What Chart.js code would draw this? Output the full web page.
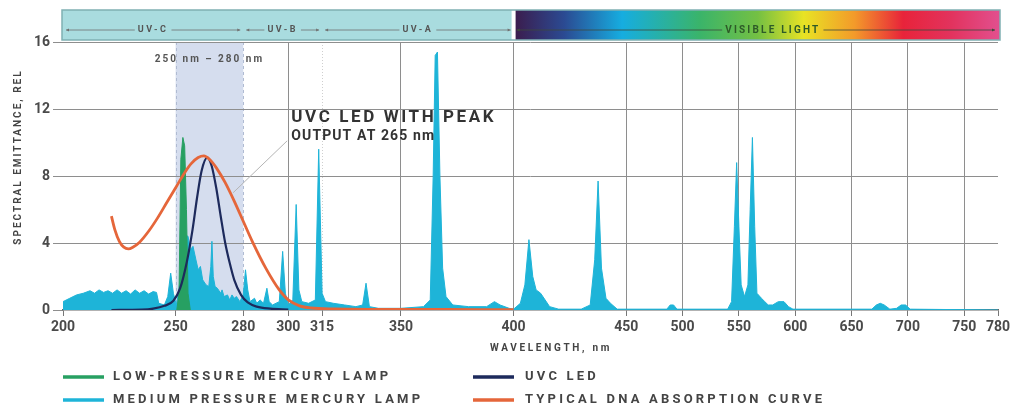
<!DOCTYPE html>
<html>
<head>
<meta charset="utf-8">
<script src="https://cdn.jsdelivr.net/npm/chart.js@4.4.1/dist/chart.umd.min.js"></script>
<style>
  html, body { margin: 0; padding: 0; background: #fff; }
  #wrap { position: relative; width: 1011px; height: 406px; }
</style>
</head>
<body>
<div id="wrap"><canvas id="chart" width="1011" height="406"></canvas></div>
<script>
// axis ticks (x is wavelength in nm, scale is compressed above 450 nm)
const xTicks = [200, 250, 280, 300, 315, 350, 400, 450, 500, 550, 600, 650, 700, 750, 780];
const xGridLines = [300, 350, 400, 450, 500, 550, 600, 650, 700, 750];
const yTicks = [0, 4, 8, 12, 16];

// spectral bands shown in the strip above the plot
const bandNames = ["UV-C", "UV-B", "UV-A", "VISIBLE LIGHT"];
const bandEdges = [200, 280, 315, 400, 780];
const germicidalRange = [250, 280];

const seriesLabels = [
  "LOW-PRESSURE MERCURY LAMP",
  "MEDIUM PRESSURE MERCURY LAMP",
  "UVC LED",
  "TYPICAL DNA ABSORPTION CURVE"
];
const seriesColors = ["#27a062", "#1eb4d8", "#1d2a5c", "#e5663a"];

// [wavelength, relative emittance]
const lowPressureLamp = [
  [250.5, 0], [251.5, 1.0], [252.3, 9.0], [253.2, 10.3], [254.0, 9.8], [254.8, 6.0], [255.5, 1.0], [256.5, 0]
];

const mediumPressureLamp = [
  [200, 0.5], [203, 0.7], [206, 0.9], [209, 1.0], [212, 1.15], [214, 1.0], [216, 1.2], [218, 1.05],
  [220, 1.15], [222, 1.0], [224, 1.2], [226, 1.0], [228, 1.15], [230, 0.95], [232, 1.2], [234, 1.0],
  [236, 1.15], [238, 0.95], [240, 1.1], [241.5, 1.05], [242.5, 0.4], [245, 0.3], [246.5, 0.8],
  [247.8, 2.2], [249, 1.0], [250.3, 0.3], [251.5, 1.2], [252.5, 3.0], [253.5, 4.5], [255.5, 4.4],
  [256.5, 3.6], [257.7, 3.8], [259, 3.0], [260, 2.4], [261, 2.6], [262, 1.8], [263.5, 1.5],
  [264.7, 1.4], [265.6, 2.6], [266.1, 4.1], [266.7, 2.0], [267.5, 1.4], [268.5, 1.3], [270, 1.0],
  [270.6, 1.2], [271.5, 0.8], [273, 0.9], [274, 0.6], [275, 0.9], [276, 0.7], [277, 0.8],
  [278.5, 0.5], [280, 0.9], [281, 2.4], [282, 1.2], [283, 0.5], [285, 0.7], [286, 0.4],
  [287.5, 0.6], [289, 0.4], [290.5, 1.3], [291.5, 0.5], [293, 0.3], [296, 0.5], [297.5, 3.5],
  [298.7, 1.0], [300, 0.3], [302, 0.6], [303.5, 6.3], [304.7, 1.2], [306, 0.5], [309, 0.4],
  [312, 0.6], [313.5, 9.6], [315, 1.0], [316.5, 0.5], [320, 0.4], [325, 0.3], [330, 0.2],
  [333, 0.3], [334.5, 1.6], [336, 0.2], [340, 0.1], [350, 0.1], [360, 0.2], [363, 0.6],
  [364.3, 8.0], [365.2, 15.2], [366.2, 15.4], [367.3, 8.0], [368.5, 2.5], [370, 0.8], [373, 0.3],
  [380, 0.2], [388, 0.2], [391.5, 0.5], [394, 0.3], [398, 0.1], [400, 0.05], [403, 0.4],
  [405, 1.5], [406.8, 4.2], [408.5, 2.0], [410, 1.2], [412, 1.0], [414, 0.6], [416, 0.2],
  [420, 0.05], [430, 0.05], [434, 0.3], [436, 3.0], [437.5, 7.7], [439, 2.5], [441, 0.7],
  [443, 0.4], [446, 0.05], [486, 0.05], [489, 0.3], [492, 0.3], [495, 0.05], [540, 0.05],
  [543.5, 0.5], [546, 5.0], [548, 8.8], [550, 5.0], [552, 1.5], [555, 0.8], [558, 1.5],
  [560, 6.0], [562, 10.3], [564, 5.0], [566, 1.0], [570, 0.7], [573, 0.5], [576, 0.3],
  [580, 0.3], [585, 0.5], [590, 0.5], [594, 0.2], [598, 0.05], [668, 0.05], [672, 0.3],
  [675.5, 0.4], [679, 0.3], [684, 0.05], [690, 0.1], [694, 0.3], [698, 0.3], [702, 0.05], [780, 0]
];

const uvcLed = [
  [221.5, 0], [235, 0.02], [240, 0.08], [245, 0.25], [249, 0.55], [252, 1.3], [255, 2.9],
  [257.5, 4.8], [259.5, 6.7], [261.5, 8.3], [264, 9.1], [266, 8.6], [268, 7.3], [270, 5.6],
  [272, 4.0], [274, 2.8], [276, 1.8], [279, 0.9], [282, 0.45], [286, 0.2], [292, 0.08], [300, 0.03]
];

const dnaAbsorption = [
  [221.5, 5.6], [223, 4.8], [225, 4.1], [227, 3.75], [229, 3.65], [231, 3.75], [234, 4.05],
  [238, 4.7], [242, 5.5], [246, 6.4], [250, 7.3], [254, 8.2], [257, 8.75], [260, 9.1],
  [262.5, 9.2], [265, 9.0], [268, 8.5], [272, 7.6], [276, 6.5], [280, 5.3], [284, 4.1],
  [290, 2.5], [296, 1.2], [300, 0.6], [305, 0.25], [310, 0.12], [320, 0.06], [340, 0.04],
  [370, 0.03], [400, 0.02]
];

const calloutLines = ["UVC LED WITH PEAK", "OUTPUT AT 265 nm"];

// piecewise wavelength axis: full scale up to 450 nm, half scale beyond
const warp = wl => wl <= 450 ? wl : 450 + (wl - 450) / 2;
const unwarp = u => u <= 450 ? u : 450 + (u - 450) * 2;

class SpectrumScale extends Chart.LinearScale {
  static id = 'spectrum';
  static defaults = Chart.LinearScale.defaults;
  getPixelForValue(value) {
    const a = warp(this.min), b = warp(this.max);
    return this.getPixelForDecimal((warp(value) - a) / (b - a));
  }
  getValueForPixel(pixel) {
    const a = warp(this.min), b = warp(this.max);
    return unwarp(a + this.getDecimalForPixel(pixel) * (b - a));
  }
}
Chart.register(SpectrumScale);

const toPoints = list => list.map(([x, y]) => ({ x, y }));
const FONT = "Roboto, 'DejaVu Sans', sans-serif";

function spacedText(ctx, text, x, y, font, color, spacing, align) {
  ctx.font = font;
  ctx.fillStyle = color;
  ctx.letterSpacing = spacing + 'px';
  ctx.textAlign = align || 'left';
  ctx.textBaseline = 'middle';
  ctx.fillText(text, x, y);
  ctx.letterSpacing = '0px';
}

const decor = {
  id: 'decor',
  beforeDraw(chart) {
    const { ctx, chartArea: a, scales: { x } } = chart;
    ctx.save();
    ctx.fillStyle = '#fff';
    ctx.fillRect(0, 0, chart.width, chart.height);

    // 250-280 nm shading
    const l = x.getPixelForValue(germicidalRange[0]);
    const r = x.getPixelForValue(germicidalRange[1]);
    ctx.fillStyle = '#d5ddee';
    ctx.fillRect(l, a.top, r - l, a.bottom - a.top);
    ctx.strokeStyle = '#b0bbd2';
    ctx.lineWidth = 1;
    ctx.setLineDash([3, 3]);
    [l, r].forEach(p => {
      ctx.beginPath();
      ctx.moveTo(Math.round(p) + 0.5, a.top);
      ctx.lineTo(Math.round(p) + 0.5, a.bottom);
      ctx.stroke();
    });

    // faint dotted line at 315 nm
    const p315 = Math.round(x.getPixelForValue(315)) + 0.5;
    ctx.strokeStyle = '#cfcfcf';
    ctx.setLineDash([1, 2]);
    ctx.beginPath();
    ctx.moveTo(p315, a.top);
    ctx.lineTo(p315, a.bottom);
    ctx.stroke();
    ctx.restore();
  },
  afterDraw(chart) {
    const { ctx, scales: { x, y } } = chart;
    ctx.save();

    // band strip
    const top = 10, bottom = 40, mid = 30;
    const uvL = x.getPixelForValue(bandEdges[0]) - 1;
    const uvR = x.getPixelForValue(bandEdges[3]) - 2;
    const visL = x.getPixelForValue(bandEdges[3]) + 2;
    const visR = x.getPixelForValue(bandEdges[4]) + 2;
    ctx.fillStyle = '#a9dcdf';
    ctx.fillRect(uvL, top, uvR - uvL, bottom - top);
    const g = ctx.createLinearGradient(visL, 0, visR, 0);
    [[0, '#3b1d4e'], [0.1, '#2b4a92'], [0.22, '#16ade0'], [0.38, '#3ab46a'],
     [0.5, '#74c043'], [0.595, '#e8e324'], [0.7, '#f39a2a'], [0.8, '#e8233a'],
     [0.9, '#e2335e'], [1, '#e2508f']].forEach(([o, c]) => g.addColorStop(o, c));
    ctx.fillStyle = g;
    ctx.fillRect(visL, top, visR - visL, bottom - top);
    ctx.strokeStyle = '#7fb0b3';
    ctx.lineWidth = 1.5;
    ctx.strokeRect(uvL, top, visR - uvL, bottom - top);

    bandNames.forEach((name, i) => {
      const x0 = x.getPixelForValue(bandEdges[i]) + 3;
      const x1 = x.getPixelForValue(bandEdges[i + 1]) - 3;
      const cx = (x0 + x1) / 2;
      const visible = i === 3;
      const font = (visible ? 'bold 10px ' : 'bold 9px ') + FONT;
      const spacing = visible ? 2.2 : 2.5;
      ctx.font = font;
      ctx.letterSpacing = spacing + 'px';
      const w = ctx.measureText(name).width + 6;
      ctx.letterSpacing = '0px';
      const tx = cx + (visible ? 17 : 0);
      ctx.strokeStyle = visible ? '#3c4a3c' : '#707070';
      ctx.lineWidth = 0.8;
      ctx.beginPath();
      ctx.moveTo(x0, mid); ctx.lineTo(tx - w / 2, mid);
      ctx.moveTo(tx + w / 2, mid); ctx.lineTo(x1, mid);
      ctx.stroke();
      ctx.fillStyle = ctx.strokeStyle;
      [[x0, 1], [x1, -1]].forEach(([p, d]) => {
        ctx.beginPath();
        ctx.moveTo(p, mid); ctx.lineTo(p + 3 * d, mid - 1.5); ctx.lineTo(p + 3 * d, mid + 1.5);
        ctx.fill();
      });
      spacedText(ctx, name, tx, mid, font, visible ? '#2e5a28' : '#555', spacing, 'center');
    });

    // range label
    const rl = x.getPixelForValue(germicidalRange[0]);
    const rr = x.getPixelForValue(germicidalRange[1]);
    spacedText(ctx, germicidalRange[0] + ' nm \u2013 ' + germicidalRange[1] + ' nm', (rl + rr) / 2, 59,
      'bold 10px ' + FONT, '#555', 2, 'center');

    // callout
    ctx.strokeStyle = '#b5b5b5';
    ctx.lineWidth = 1;
    ctx.beginPath();
    ctx.moveTo(x.getPixelForValue(299.5), y.getPixelForValue(10.1));
    ctx.lineTo(x.getPixelForValue(275.5), y.getPixelForValue(7.0));
    ctx.stroke();
    const cxp = x.getPixelForValue(300) + 3;
    spacedText(ctx, calloutLines[0], cxp, 118, 'bold 17px ' + FONT, '#333', 2.6, 'left');
    spacedText(ctx, calloutLines[1], cxp, 136, 'bold 14px ' + FONT, '#333', 1.1, 'left');

    // axis titles
    spacedText(ctx, 'WAVELENGTH, nm', 551, 348, 'bold 10px ' + FONT, '#444', 2.7, 'center');
    ctx.save();
    ctx.translate(18, 157);
    ctx.rotate(-Math.PI / 2);
    spacedText(ctx, 'SPECTRAL EMITTANCE, REL', 0, 0, 'bold 10px ' + FONT, '#444', 2, 'center');
    ctx.restore();

    // legend, two columns
    const slots = [[63, 377], [63, 400], [473, 377], [473, 400]];
    seriesLabels.forEach((label, i) => {
      const [lx, ly] = slots[i];
      ctx.strokeStyle = seriesColors[i];
      ctx.lineWidth = 3.5;
      ctx.beginPath();
      ctx.moveTo(lx, ly); ctx.lineTo(lx + 41, ly);
      ctx.stroke();
      spacedText(ctx, label, lx + (i < 2 ? 50 : 52), ly, 'bold 13px ' + FONT, '#444', 3.2, 'left');
    });
    ctx.restore();
  }
};

const tickFont = { family: FONT, weight: 'bold', size: 14 };

new Chart(document.getElementById('chart'), {
  type: 'line',
  data: {
    datasets: [
      {
        label: seriesLabels[3], data: toPoints(dnaAbsorption), order: 0,
        borderColor: seriesColors[3], borderWidth: 2.8, pointRadius: 0,
        fill: false, cubicInterpolationMode: 'monotone'
      },
      {
        label: seriesLabels[2], data: toPoints(uvcLed), order: 1,
        borderColor: seriesColors[2], borderWidth: 2.2, pointRadius: 0,
        fill: false, cubicInterpolationMode: 'monotone'
      },
      {
        label: seriesLabels[0], data: toPoints(lowPressureLamp), order: 2,
        borderColor: seriesColors[0], backgroundColor: seriesColors[0], borderWidth: 1,
        pointRadius: 0, fill: 'origin', tension: 0
      },
      {
        label: seriesLabels[1], data: toPoints(mediumPressureLamp), order: 3,
        borderColor: seriesColors[1], backgroundColor: seriesColors[1], borderWidth: 1,
        pointRadius: 0, fill: 'origin', tension: 0
      }
    ]
  },
  options: {
    responsive: false,
    animation: false,
    events: [],
    layout: { padding: { top: 42, right: 13, left: 0, bottom: 0 } },
    plugins: { legend: { display: false }, tooltip: { enabled: false } },
    scales: {
      x: {
        type: 'spectrum',
        min: 200,
        max: 780,
        afterBuildTicks: s => { s.ticks = xTicks.map(v => ({ value: v })); },
        afterFit: s => { s.height = 96; s.paddingLeft = 0; s.paddingRight = 0; },
        grid: {
          color: c => (c.tick && xGridLines.includes(c.tick.value)) ? '#8e8e8e' : 'rgba(0,0,0,0)',
          tickColor: '#777',
          tickLength: 6
        },
        border: { display: true, color: '#666', width: 1.5 },
        ticks: {
          autoSkip: false, maxRotation: 0, padding: 3, color: '#4a4a4a', font: tickFont,
          callback: v => String(v)
        }
      },
      y: {
        min: 0,
        max: 16,
        afterBuildTicks: s => { s.ticks = yTicks.map(v => ({ value: v })); },
        afterFit: s => { s.width = 63; },
        grid: {
          color: c => (c.tick && c.tick.value === 0) ? 'rgba(0,0,0,0)' : '#8e8e8e',
          tickColor: '#8e8e8e',
          tickLength: 10
        },
        border: { display: false },
        ticks: { padding: 3, color: '#4a4a4a', font: tickFont }
      }
    }
  },
  plugins: [decor]
});
</script>
</body>
</html>
